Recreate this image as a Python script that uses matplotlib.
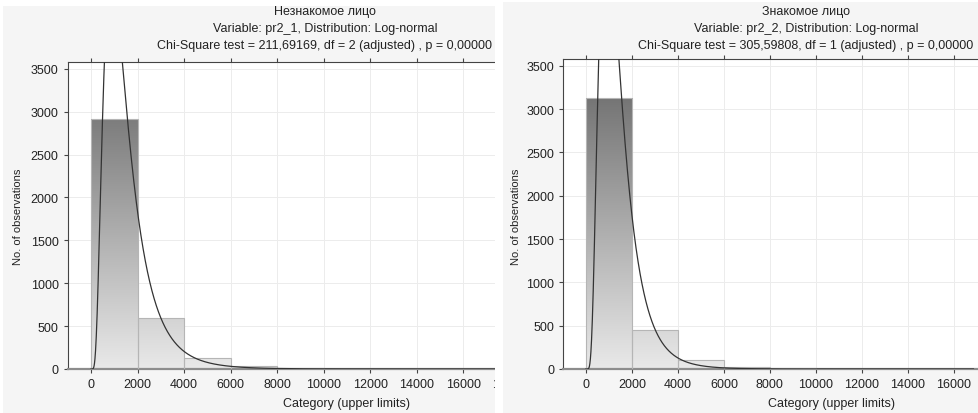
import numpy as np
import matplotlib.pyplot as plt
from matplotlib.colors import LinearSegmentedColormap
from matplotlib.patches import Rectangle

plt.rcParams['font.family'] = ['Liberation Sans', 'DejaVu Sans']

W, H = 979, 414

# --- data ---
bin_edges = [0, 2000, 4000, 6000, 8000, 10000, 12000, 14000, 16000, 18000]
left_counts = [2910, 600, 124, 31, 10, 4, 2, 1, 1]
right_counts = [3130, 454, 100, 20, 6, 2, 1, 1, 0]

# fitted log-normal (mu, sigma of ln x), estimated from the drawn curves
left_mu, left_sigma = 7.15, 0.607
right_mu, right_sigma = 7.10, 0.55

left_title = ["Незнакомое лицо",
              "Variable: pr2_1, Distribution: Log-normal",
              "Chi-Square test = 211,69169, df = 2 (adjusted) , p = 0,00000"]
right_title = ["Знакомое лицо",
               "Variable: pr2_2, Distribution: Log-normal",
               "Chi-Square test = 305,59808, df = 1 (adjusted) , p = 0,00000"]
x_ticks = list(range(0, 18001, 2000))
y_ticks = list(range(0, 3501, 500))


def fx(px):
    return px / W


def fy(py):
    return 1 - py / H


grad_cmap = LinearSegmentedColormap.from_list('g', ['#e9e9e9', '#747474'])

fig = plt.figure(figsize=(W / 100, H / 100), dpi=100)
fig.patch.set_facecolor('white')

# panel backgrounds
fig.add_artist(Rectangle((fx(3), 0), fx(495 - 3), fy(7), transform=fig.transFigure,
                         facecolor='#f5f5f5', edgecolor='none', zorder=-3))


def draw_panel(ax, counts, mu, sigma, xlim, ylim):
    edges = bin_edges
    width = edges[1] - edges[0]
    bars = ax.bar(edges[:-1], counts, width=width, align='edge',
                  facecolor='none', edgecolor='#b5b5b5', linewidth=0.8, zorder=3)
    grad = np.linspace(0, 1, 256).reshape(-1, 1)
    for b in bars:
        if b.get_height() <= 0:
            continue
        im = ax.imshow(grad, extent=[b.get_x(), b.get_x() + b.get_width(), 0, 3150],
                       origin='lower', aspect='auto', cmap=grad_cmap, zorder=2)
        im.set_clip_path(b)
    n = sum(counts)
    xs = np.linspace(1, xlim[1], 3000)
    pdf = np.exp(-(np.log(xs) - mu) ** 2 / (2 * sigma ** 2)) / (xs * sigma * np.sqrt(2 * np.pi))
    ax.plot(xs, n * width * pdf, color='#333333', linewidth=0.9, zorder=4)

    ax.set_xlim(*xlim)
    ax.set_ylim(*ylim)
    ax.set_xticks(x_ticks)
    ax.set_yticks(y_ticks)
    ax.grid(True, color='#ececec', linewidth=0.7, zorder=0)
    ax.set_axisbelow(True)
    ax.tick_params(axis='both', labelsize=9, length=3, color='#444444',
                   labelcolor='#222222', direction='out', top=True, labeltop=False)
    for side in ['left', 'top']:
        ax.spines[side].set_color('#444444')
        ax.spines[side].set_linewidth(0.8)
    ax.spines['bottom'].set_color('#8c8c8c')
    ax.spines['bottom'].set_linewidth(1.6)
    ax.spines['right'].set_visible(False)
    ax.set_facecolor('white')


# left panel
ax1 = fig.add_axes([fx(67.7), fy(370), fx(530 - 67.7), (370 - 63) / H])
ax1.set_zorder(-2)
draw_panel(ax1, left_counts, left_mu, left_sigma, (-1000, 18865), (0, 3580))
for i, t in enumerate(left_title):
    fig.text(fx(325), fy(12 + 17 * i), t, ha='center', va='center', fontsize=9,
             color='#222222', zorder=-1)
fig.text(fx(347), fy(404), "Category (upper limits)", ha='center', va='center',
         fontsize=9, color='#222222', zorder=-1)
fig.text(fx(18), fy(217), "No. of observations", ha='center', va='center',
         rotation=90, fontsize=8, color='#222222', zorder=-1)

# cover for the cut-off part of the left panel, and right panel background
fig.add_artist(Rectangle((fx(495), 0), 1 - fx(495), 1, transform=fig.transFigure,
                         facecolor='white', edgecolor='none', zorder=0.2))
fig.add_artist(Rectangle((fx(503), 0), 1 - fx(503), fy(3), transform=fig.transFigure,
                         facecolor='#f5f5f5', edgecolor='none', zorder=0.3))

# right panel
ax2 = fig.add_axes([fx(563.3), fy(370), fx(1000 - 563.3), 310 / H])
ax2.set_zorder(1)
draw_panel(ax2, right_counts, right_mu, right_sigma, (-980, 16845), (0, 3577))
for i, t in enumerate(right_title):
    fig.text(fx(806), fy(12 + 17 * i), t, ha='center', va='center', fontsize=9,
             color='#222222', zorder=2)
fig.text(fx(832), fy(404), "Category (upper limits)", ha='center', va='center',
         fontsize=9, color='#222222', zorder=2)
fig.text(fx(516), fy(217), "No. of observations", ha='center', va='center',
         rotation=90, fontsize=8, color='#222222', zorder=2)

fig.savefig('out.png', dpi=100, facecolor=fig.get_facecolor())
